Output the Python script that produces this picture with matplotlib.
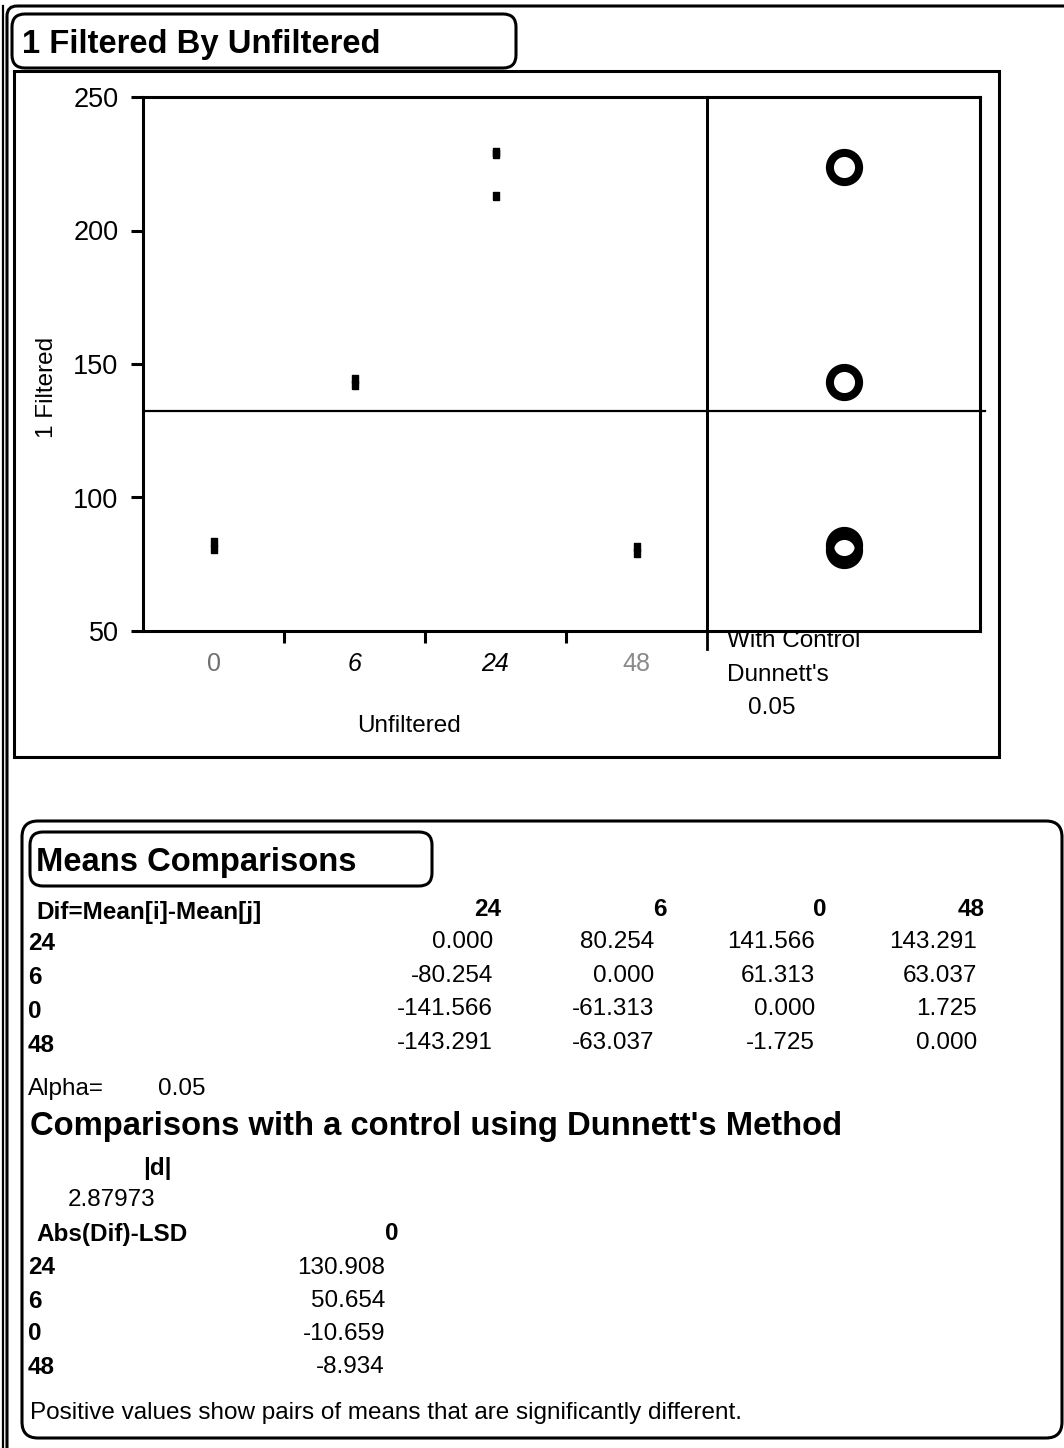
import matplotlib
matplotlib.use('Agg')
import matplotlib.pyplot as plt
from matplotlib.patches import FancyBboxPatch, Rectangle
from matplotlib.path import Path
import numpy as np

plt.rcParams['font.family'] = ['Liberation Sans', 'DejaVu Sans']

# ---------------- data ----------------
categories = ['0', '6', '24', '48']
values_0 = [83.5, 80.8]
values_6 = [144.5, 142.3]
values_24 = [229.5, 228.5, 213.0]
values_48 = [81.5, 79.4]
group_values = [values_0, values_6, values_24, values_48]
y_ticks = [50, 100, 150, 200, 250]

table_cols = ['24', '6', '0', '48']
table_rows = ['24', '6', '0', '48']
dif_24 = [0.000, 80.254, 141.566, 143.291]
dif_6 = [-80.254, 0.000, 61.313, 63.037]
dif_0 = [-141.566, -61.313, 0.000, 1.725]
dif_48 = [-143.291, -63.037, -1.725, 0.000]
dif_table = [dif_24, dif_6, dif_0, dif_48]
alpha = 0.05
d_value = 2.87973
lsd_control = '0'
lsd_rows = ['24', '6', '0', '48']
abs_dif_lsd = [130.908, 50.654, -10.659, -8.934]

# ---------------- figure ----------------
W, H = 1064, 1448
fig = plt.figure(figsize=(W / 100, H / 100), dpi=100)
bg = fig.add_axes([0, 0, 1, 1])
bg.set_xlim(0, W)
bg.set_ylim(H, 0)
bg.axis('off')

LW = 2.2


def fr(x0, y0, x1, y1):
    return [x0 / W, 1 - y1 / H, (x1 - x0) / W, (y1 - y0) / H]


def rbox(x0, y0, x1, y1, r, lw=LW):
    p = FancyBboxPatch((x0, y0), x1 - x0, y1 - y0,
                       boxstyle=f"round,pad=0,rounding_size={r}",
                       fc='none', ec='black', lw=lw)
    bg.add_patch(p)


# outer frames
rbox(7, 6, 1120, 1520, 10)
bg.plot([3, 3], [6, H], color='black', lw=1.6)
rbox(12, 14, 516, 68, 13)
bg.add_patch(Rectangle((14, 71), 999 - 14, 757 - 71, fc='none', ec='black', lw=LW))
rbox(22, 821, 1062, 1438, 16)
rbox(30, 832, 432, 886, 13)

# ---------------- plot ----------------
ax = fig.add_axes(fr(143, 97, 707, 631))
axd = fig.add_axes(fr(707, 97, 980, 631), sharey=ax)
axd.patch.set_alpha(0)

rect = Path([(-0.43, -0.5), (0.43, -0.5), (0.43, 0.5), (-0.43, 0.5), (-0.43, -0.5)])
for i, vals in enumerate(group_values):
    ax.plot([i] * len(vals), vals, ls='none', marker=rect, ms=5.2,
            color='black', mec='black')

means = [np.mean(v) for v in group_values]
grand = np.mean(means)

ax.set_xlim(-0.5, 3.5)
ax.set_ylim(50, 250)
ax.set_yticks(y_ticks)
ax.tick_params(axis='y', length=8.6, width=2.2, labelsize=19.5, pad=9)
ax.set_xticks([0.5, 1.5, 2.5])
ax.set_xticklabels([])
ax.tick_params(axis='x', which='major', length=8.6, width=2.2, direction='out')
ax.set_xticks(range(len(categories)), minor=True)
ax.set_xticklabels(categories, minor=True)
ax.tick_params(axis='x', which='minor', length=0, pad=15, labelsize=18)
labs = ax.get_xticklabels(minor=True)
labs[0].set_color('#707070')
labs[1].set_style('italic')
labs[2].set_style('italic')
labs[3].set_color('#8a8a8a')

for s in ['left', 'bottom', 'top']:
    ax.spines[s].set_linewidth(LW)
ax.spines['right'].set_linewidth(2.0)
ax.axvline(3.5, ymin=-0.034, ymax=0, clip_on=False, color='black', lw=2.0)
ax.axhline(grand, color='black', lw=1.6)

axd.set_xlim(0, 1)
axd.plot([0.5] * len(means), means, ls='none', marker='o', ms=21,
         mfc='none', mec='black', mew=5.8)
axd.axhline(grand, xmin=0, xmax=1.018, clip_on=False, color='black', lw=1.6)
axd.set_xticks([])
axd.tick_params(axis='y', left=False, labelleft=False)
axd.spines['left'].set_linewidth(2.0)
for s in ['top', 'right', 'bottom']:
    axd.spines[s].set_linewidth(LW)

# ---------------- texts ----------------
FS = 17.5
TFS = 23.6
bg.text(22, 45, '1 Filtered By Unfiltered', fontsize=TFS, fontweight='bold', va='center', ha='left')
bg.text(47, 387, '1 Filtered', fontsize=17.5, rotation=90, va='center', ha='center')
bg.text(409, 726, 'Unfiltered', fontsize=FS, va='center', ha='center')
bg.text(727, 641, 'With Control', fontsize=FS, va='center', ha='left')
bg.text(727, 675, "Dunnett's", fontsize=FS, va='center', ha='left')
bg.text(748, 708, f'{alpha:.2f}', fontsize=FS, va='center', ha='left')

bg.text(36, 862, 'Means Comparisons', fontsize=TFS, fontweight='bold', va='center', ha='left')
bg.text(36, 912, 'Dif=Mean[i]-Mean[j]', fontsize=FS, fontweight='bold', va='center', ha='left')
col_hdr_x = [501, 667, 827, 985]
col_val_x = [493, 654, 815, 977]
row_y = [944, 978, 1011, 1045]
for c, x in zip(table_cols, col_hdr_x):
    bg.text(x, 910, c, fontsize=FS, fontweight='bold', va='center', ha='right')
for r, y, vals in zip(table_rows, row_y, dif_table):
    bg.text(28, y, r, fontsize=FS, fontweight='bold', va='center', ha='left')
    for v, x in zip(vals, col_val_x):
        bg.text(x, y - 2, f'{v:.3f}', fontsize=FS, va='center', ha='right')

bg.text(28, 1089, 'Alpha=', fontsize=FS, va='center', ha='left')
bg.text(158, 1089, f'{alpha:.2f}', fontsize=FS, va='center', ha='left')
bg.text(30, 1127, "Comparisons with a control using Dunnett's Method", fontsize=TFS,
        fontweight='bold', va='center', ha='left')
bg.text(157, 1168, '|d|', fontsize=FS, fontweight='bold', va='center', ha='center')
bg.text(68, 1200, f'{d_value:.5f}', fontsize=FS, va='center', ha='left')
bg.text(36, 1235, 'Abs(Dif)-LSD', fontsize=FS, fontweight='bold', va='center', ha='left')
bg.text(398, 1233, lsd_control, fontsize=FS, fontweight='bold', va='center', ha='right')
for r, y, v in zip(lsd_rows, [1268, 1301, 1334, 1367], abs_dif_lsd):
    bg.text(28, y, r, fontsize=FS, fontweight='bold', va='center', ha='left')
    bg.text(385, y, f'{v:.3f}', fontsize=FS, va='center', ha='right')
bg.text(30, 1413, 'Positive values show pairs of means that are significantly different.',
        fontsize=FS, va='center', ha='left')

fig.savefig('out.png', dpi=100)
